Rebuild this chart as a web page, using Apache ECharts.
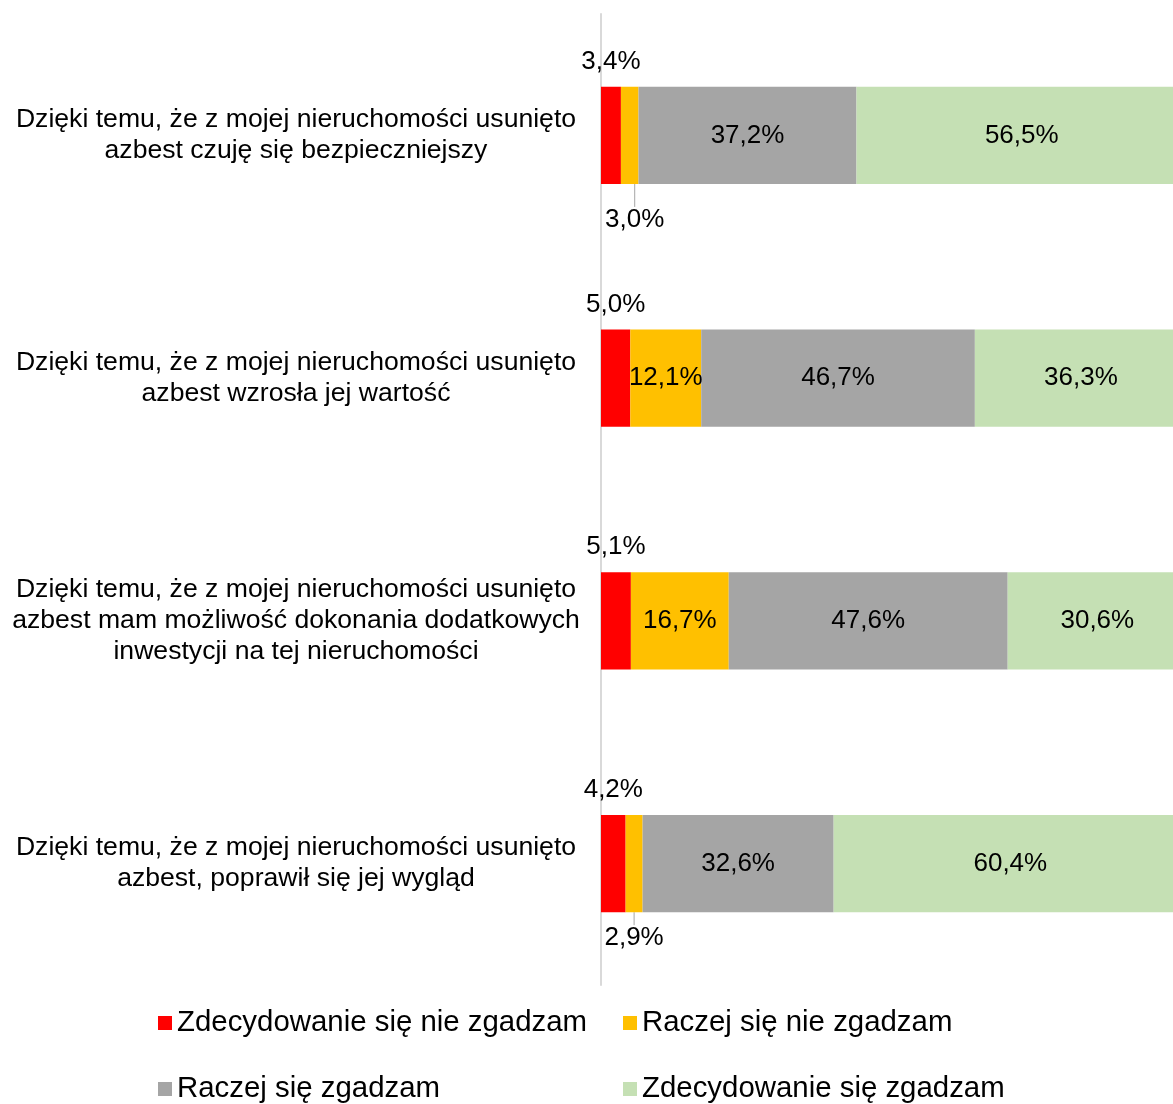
<!DOCTYPE html>
<html>
<head>
<meta charset="utf-8">
<script src="https://cdn.jsdelivr.net/npm/echarts@6/dist/echarts.min.js"></script>
<style>
  html, body { margin: 0; padding: 0; background: #fff; overflow: hidden; }
</style>
</head>
<body>
<!-- the plot runs a little past the right edge, as in the original -->
<div id="chart" style="width: 1187px; height: 1104px;"></div>
<script>
const categories = [
  'Dzięki temu, że z mojej nieruchomości usunięto\nazbest czuję się bezpieczniejszy',
  'Dzięki temu, że z mojej nieruchomości usunięto\nazbest wzrosła jej wartość',
  'Dzięki temu, że z mojej nieruchomości usunięto\nazbest mam możliwość dokonania dodatkowych\ninwestycji na tej nieruchomości',
  'Dzięki temu, że z mojej nieruchomości usunięto\nazbest, poprawił się jej wygląd'
];
const seriesNames = [
  'Zdecydowanie się nie zgadzam',
  'Raczej się nie zgadzam',
  'Raczej się zgadzam',
  'Zdecydowanie się zgadzam'
];
const stronglyDisagree = [3.4, 5.0, 5.1, 4.2];
const ratherDisagree = [3.0, 12.1, 16.7, 2.9];
const ratherAgree = [37.2, 46.7, 47.6, 32.6];
const stronglyAgree = [56.5, 36.3, 30.6, 60.4];
const colors = ['#FF0000', '#FFC000', '#A5A5A5', '#C5E0B4'];

const FONT = 'Liberation Sans, Arial, sans-serif';

function pct(p) {
  return p.value.toFixed(1).replace('.', ',') + '%';
}

let chart = echarts.init(document.getElementById('chart'));

// labels of the small yellow values sit below the bar
const yellowData = ratherDisagree.map((v, i) => {
  if (v < 5) {
    return { value: v, label: { position: 'bottom', distance: 13 } };
  }
  return v;
});

let labelBase = {
  show: true,
  color: '#000',
  fontSize: 26,
  fontFamily: FONT,
  formatter: pct
};

let legendBase = {
  orient: 'vertical',
  top: 1008,
  height: 96,
  padding: 0,
  itemWidth: 14,
  itemHeight: 14,
  itemGap: 36,
  icon: 'rect',
  textStyle: { fontSize: 29.4, fontFamily: FONT, color: '#000', lineHeight: 30 }
};

let option = {
  animation: false,
  color: colors,
  grid: {
    left: 601,
    right: 0,
    top: 14,
    bottom: 119,
    containLabel: false
  },
  legend: [
    Object.assign({}, legendBase, { left: 158, data: [seriesNames[0], seriesNames[2]] }),
    Object.assign({}, legendBase, { left: 623, data: [seriesNames[1], seriesNames[3]] })
  ],
  xAxis: {
    type: 'value',
    min: 0,
    max: 100,
    show: false
  },
  yAxis: {
    type: 'category',
    inverse: true,
    data: categories,
    axisTick: { show: false },
    axisLine: { lineStyle: { color: '#D9D9D9', width: 2 } },
    axisLabel: {
      color: '#000',
      fontSize: 26.6,
      fontFamily: FONT,
      lineHeight: 31,
      align: 'center',
      margin: 305
    }
  },
  series: [
    {
      name: seriesNames[0],
      type: 'bar',
      stack: 'total',
      barWidth: '40%',
      data: stronglyDisagree,
      label: Object.assign({}, labelBase, { position: 'top', distance: 12 })
    },
    {
      name: seriesNames[1],
      type: 'bar',
      stack: 'total',
      data: yellowData,
      label: Object.assign({}, labelBase, { position: 'inside' }),
      labelLine: { show: true, lineStyle: { color: '#A5A5A5', width: 1 } },
      labelLayout: function (p) {
        if (p.dataIndex === 0) return { dx: 5, dy: 10 };
        return {};
      }
    },
    {
      name: seriesNames[2],
      type: 'bar',
      stack: 'total',
      data: ratherAgree,
      label: Object.assign({}, labelBase, { position: 'inside' })
    },
    {
      name: seriesNames[3],
      type: 'bar',
      stack: 'total',
      data: stronglyAgree,
      label: Object.assign({}, labelBase, { position: 'inside' })
    }
  ]
};

chart.setOption(option);
</script>
</body>
</html>
